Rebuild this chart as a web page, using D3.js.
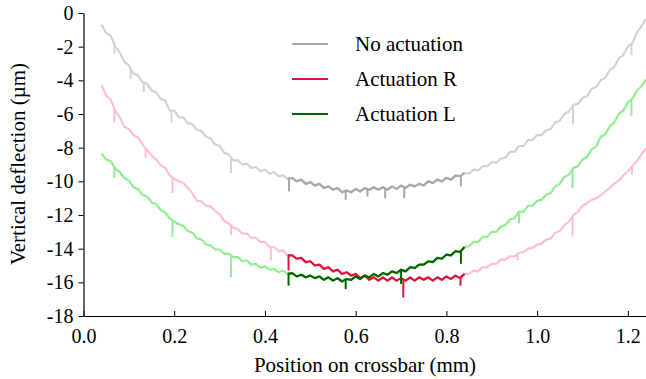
<!DOCTYPE html>
<html><head><meta charset="utf-8">
<script src="https://cdn.jsdelivr.net/npm/d3@7"></script>
<style>
body{margin:0;background:#fff}
svg{display:block}
</style>
</head><body>
<svg id="c" width="646" height="379"></svg>
<script>
// ---- data ----
const positions=[0.04,0.05,0.06,0.07,0.08,0.09,0.10,0.11,0.12,0.13,0.14,0.15,0.16,0.17,0.18,0.19,0.20,0.21,0.22,0.23,0.24,0.25,0.26,0.27,0.28,0.29,0.30,0.31,0.32,0.33,0.34,0.35,0.36,0.37,0.38,0.39,0.40,0.41,0.42,0.43,0.44,0.45,0.46,0.47,0.48,0.49,0.50,0.51,0.52,0.53,0.54,0.55,0.56,0.57,0.58,0.59,0.60,0.61,0.62,0.63,0.64,0.65,0.66,0.67,0.68,0.69,0.70,0.71,0.72,0.73,0.74,0.75,0.76,0.77,0.78,0.79,0.80,0.81,0.82,0.83,0.84,0.85,0.86,0.87,0.88,0.89,0.90,0.91,0.92,0.93,0.94,0.95,0.96,0.97,0.98,0.99,1.00,1.01,1.02,1.03,1.04,1.05,1.06,1.07,1.08,1.09,1.10,1.11,1.12,1.13,1.14,1.15,1.16,1.17,1.18,1.19,1.20,1.21,1.22,1.23,1.24];

const noActuation=[-0.7,-1.2,-1.35,-2.0,-2.35,-2.9,-3.1,-3.6,-3.7,-4.1,-4.2,-4.6,-4.7,-5.1,-5.2,-5.8,-5.8,-6.2,-6.2,-6.55,-6.6,-6.95,-7.0,-7.35,-7.45,-7.8,-7.9,-8.3,-8.4,-8.75,-8.75,-9.0,-8.95,-9.2,-9.15,-9.4,-9.3,-9.55,-9.45,-9.7,-9.65,-9.85,-9.8,-10.0,-9.9,-10.15,-10.05,-10.25,-10.15,-10.4,-10.3,-10.5,-10.4,-10.65,-10.55,-10.65,-10.45,-10.6,-10.4,-10.5,-10.35,-10.5,-10.35,-10.5,-10.3,-10.45,-10.25,-10.4,-10.2,-10.3,-10.15,-10.25,-10.0,-10.1,-9.9,-10.0,-9.8,-9.9,-9.65,-9.7,-9.5,-9.55,-9.3,-9.35,-9.1,-9.1,-8.85,-8.9,-8.65,-8.6,-8.25,-8.25,-7.9,-7.9,-7.55,-7.55,-7.25,-7.25,-6.95,-6.9,-6.5,-6.4,-6.0,-5.85,-5.45,-5.4,-5.05,-4.95,-4.5,-4.4,-4.0,-3.85,-3.4,-3.2,-2.7,-2.5,-2.0,-1.8,-1.15,-0.8,-0.35];

const actuationR=[-4.3,-4.9,-5.15,-5.8,-6.2,-6.75,-6.9,-7.25,-7.4,-7.8,-8.15,-8.45,-8.7,-9.05,-9.2,-9.65,-9.85,-10.0,-10.1,-10.4,-10.7,-11.15,-11.2,-11.45,-11.5,-11.75,-11.95,-12.35,-12.5,-12.75,-12.85,-13.1,-13.1,-13.35,-13.35,-13.6,-13.6,-13.9,-13.9,-14.15,-14.1,-14.4,-14.4,-14.6,-14.55,-14.8,-14.75,-15.0,-14.95,-15.2,-15.1,-15.35,-15.25,-15.5,-15.4,-15.6,-15.5,-15.75,-15.6,-15.85,-15.7,-15.9,-15.7,-15.9,-15.7,-15.9,-15.75,-15.9,-15.7,-15.9,-15.7,-15.85,-15.7,-15.9,-15.7,-15.85,-15.65,-15.8,-15.6,-15.75,-15.5,-15.5,-15.3,-15.35,-15.1,-15.1,-14.9,-14.9,-14.65,-14.65,-14.45,-14.45,-14.25,-14.2,-14.0,-13.95,-13.75,-13.7,-13.45,-13.4,-13.05,-12.95,-12.6,-12.4,-12.0,-11.8,-11.45,-11.3,-11.1,-11.0,-10.85,-10.6,-10.4,-10.15,-9.95,-9.65,-9.4,-9.1,-8.8,-8.4,-8.05];

const actuationL=[-8.35,-8.7,-8.8,-9.25,-9.45,-9.8,-9.95,-10.35,-10.45,-10.8,-10.9,-11.25,-11.35,-11.7,-11.85,-12.2,-12.4,-12.55,-12.65,-12.95,-13.05,-13.4,-13.45,-13.75,-13.8,-14.05,-14.05,-14.3,-14.3,-14.5,-14.5,-14.75,-14.7,-14.95,-14.9,-15.15,-15.05,-15.25,-15.2,-15.4,-15.3,-15.5,-15.45,-15.65,-15.55,-15.7,-15.6,-15.75,-15.65,-15.85,-15.7,-15.9,-15.75,-15.95,-15.8,-15.85,-15.65,-15.8,-15.6,-15.7,-15.5,-15.65,-15.45,-15.55,-15.35,-15.45,-15.25,-15.35,-15.1,-15.15,-14.95,-14.95,-14.75,-14.8,-14.55,-14.6,-14.35,-14.4,-14.15,-14.2,-13.9,-13.85,-13.6,-13.6,-13.3,-13.3,-13.0,-13.0,-12.7,-12.6,-12.25,-12.2,-11.8,-11.8,-11.45,-11.45,-11.15,-11.1,-10.8,-10.7,-10.3,-10.15,-9.75,-9.6,-9.2,-9.1,-8.7,-8.55,-8.1,-7.95,-7.35,-7.2,-6.75,-6.5,-6.0,-5.8,-5.3,-5.1,-4.6,-4.35,-3.95];

// downward glitches: [position, from, to]
const spikesNo=[[0.068,-1.7,-2.4],[0.104,-3.3,-3.9],[0.133,-4.1,-4.7],[0.194,-5.8,-6.5],[0.325,-8.6,-9.5],[0.453,-9.8,-10.6],[0.578,-10.6,-11.1],[0.626,-10.45,-10.9],[0.665,-10.4,-11.0],[0.707,-10.3,-11.0],[0.832,-9.65,-10.3],[1.079,-5.5,-6.6],[1.208,-1.75,-2.5]];
const spikesR=[[0.068,-5.7,-6.5],[0.137,-8.0,-8.6],[0.196,-9.8,-10.7],[0.325,-12.6,-13.2],[0.413,-13.9,-14.7],[0.452,-14.4,-15.3],[0.705,-15.8,-16.9],[0.831,-15.7,-16.2],[0.957,-14.3,-14.7],[1.078,-12.1,-13.3],[1.209,-9.1,-9.6]];
const spikesL=[[0.068,-9.2,-9.8],[0.196,-12.4,-13.3],[0.325,-14.5,-15.7],[0.452,-15.5,-16.2],[0.578,-15.85,-16.4],[0.700,-15.3,-16.1],[0.832,-14.15,-14.9],[0.960,-11.9,-12.5],[1.078,-9.3,-10.4],[1.208,-5.1,-6.1]];

const seriesNames=["No actuation","Actuation R","Actuation L"];
const activeRange=[0.45,0.84];
const xTicks=[0,0.2,0.4,0.6,0.8,1.0,1.2];
const yTicks=[0,-2,-4,-6,-8,-10,-12,-14,-16,-18];

// ---- styles ----
const FONT="'Liberation Serif','Times New Roman',Times,'DejaVu Serif',serif";
const darkColors=["#a9a9a9","#dc143c","#006400"];
const lightColors=["#d3d3d3","#ffc0cb","#90ee90"];

const svg=d3.select("#c");
const x=d3.scaleLinear().domain([0,1.24]).range([83.5,646]);
const y=d3.scaleLinear().domain([-18,0]).range([316,13]);

svg.append("clipPath").attr("id","pc").append("rect")
  .attr("x",83.5).attr("y",0).attr("width",646-83.5).attr("height",316);

const line=d3.line().x(d=>x(d[0])).y(d=>y(d[1]));
const plot=svg.append("g").attr("clip-path","url(#pc)");

const allSeries=[noActuation,actuationR,actuationL];
const allSpikes=[spikesNo,spikesR,spikesL];

allSeries.forEach((vals,i)=>{
  const pts=positions.map((p,j)=>[p,vals[j]]);
  plot.append("path").datum(pts).attr("d",line)
    .attr("fill","none").attr("stroke",lightColors[i]).attr("stroke-width",2.2).attr("stroke-linejoin","round");
  plot.selectAll(null).data(allSpikes[i].filter(s=>s[0]<activeRange[0]||s[0]>activeRange[1])).enter().append("line")
    .attr("x1",d=>x(d[0])).attr("x2",d=>x(d[0])).attr("y1",d=>y(d[1])).attr("y2",d=>y(d[2]))
    .attr("stroke",lightColors[i]).attr("stroke-width",2);
});
allSeries.forEach((vals,i)=>{
  const pts=positions.map((p,j)=>[p,vals[j]]).filter(d=>d[0]>=activeRange[0]-1e-9&&d[0]<=activeRange[1]+1e-9);
  plot.append("path").datum(pts).attr("d",line)
    .attr("fill","none").attr("stroke",darkColors[i]).attr("stroke-width",2.2).attr("stroke-linejoin","round");
  plot.selectAll(null).data(allSpikes[i].filter(s=>s[0]>=activeRange[0]&&s[0]<=activeRange[1])).enter().append("line")
    .attr("x1",d=>x(d[0])).attr("x2",d=>x(d[0])).attr("y1",d=>y(d[1])).attr("y2",d=>y(d[2]))
    .attr("stroke",darkColors[i]).attr("stroke-width",2);
});

// axes
const xAxis=svg.append("g").attr("transform","translate(0,316)")
  .call(d3.axisBottom(x).tickValues(xTicks).tickFormat(d3.format(".1f")).tickSizeInner(-5).tickSizeOuter(0).tickPadding(13));
const yAxis=svg.append("g").attr("transform","translate(83.5,0)")
  .call(d3.axisLeft(y).tickValues(yTicks).tickFormat(d=>String(d)).tickSizeInner(5).tickSizeOuter(0).tickPadding(5));
[xAxis,yAxis].forEach(a=>{
  a.attr("font-family",null).attr("font-size",null);
  a.selectAll("text").style("font-family",FONT).style("font-size","20px").attr("fill","#000");
  a.selectAll("line").attr("stroke","#000").attr("stroke-width",1);
  a.select(".domain").attr("stroke","#000").attr("stroke-width",1.2);
});

svg.append("text").attr("x",365).attr("y",372).attr("text-anchor","middle")
  .style("font-family",FONT).style("font-size","21px").text("Position on crossbar (mm)");
svg.append("text").attr("transform","translate(25,164) rotate(-90)").attr("text-anchor","middle")
  .style("font-family",FONT).style("font-size","21px").text("Vertical deflection (µm)");

// legend
const leg=svg.append("g");
seriesNames.forEach((n,i)=>{
  const ly=44+i*35;
  leg.append("line").attr("x1",292).attr("x2",328).attr("y1",ly).attr("y2",ly)
    .attr("stroke",darkColors[i]).attr("stroke-width",2.2);
  leg.append("text").attr("x",355).attr("y",ly+7).style("font-family",FONT).style("font-size","21px").text(n);
});
</script>
</body></html>
